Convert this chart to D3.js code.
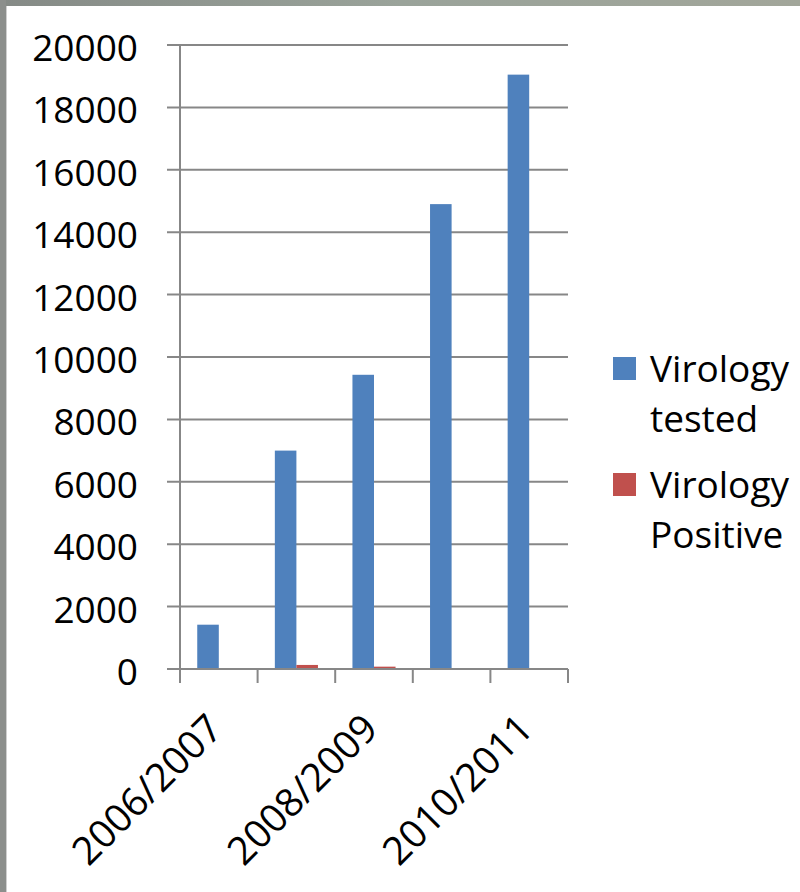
<!DOCTYPE html>
<html>
<head>
<meta charset="utf-8">
<script src="https://cdn.jsdelivr.net/npm/d3@7"></script>
<style>
  html, body { margin: 0; padding: 0; background: #fff; }
  svg { display: block; }
  text { font-family: "Open Sans", "Noto Sans", sans-serif; fill: #000; }
</style>
</head>
<body>
<svg id="chart" width="800" height="892"></svg>
<script>
const categories = ["2006/2007", "2007/2008", "2008/2009", "2009/2010", "2010/2011"];
const shownLabels = ["2006/2007", "2008/2009", "2010/2011"];
const seriesNames = ["Virology tested", "Virology Positive"];
const virologyTested = [1420, 7000, 9430, 14900, 19050];
const virologyPositive = [20, 130, 75, 15, 0];
const yTicks = [0, 2000, 4000, 6000, 8000, 10000, 12000, 14000, 16000, 18000, 20000];
const colors = ["#4F81BD", "#C0504D"];

const svg = d3.select("#chart");
const W = 800, H = 892;

// window frame edges
svg.append("rect").attr("x", 0).attr("y", 0).attr("width", W).attr("height", H).attr("fill", "#fff");
const topGrad = svg.append("defs").append("linearGradient").attr("id", "tg").attr("x1", 0).attr("x2", 1);
topGrad.append("stop").attr("offset", 0).attr("stop-color", "#858a86");
topGrad.append("stop").attr("offset", 0.5).attr("stop-color", "#9aa39a");
topGrad.append("stop").attr("offset", 1).attr("stop-color", "#a2a69a");
svg.append("rect").attr("x", 0).attr("y", 0).attr("width", W).attr("height", 6).attr("fill", "url(#tg)");
svg.append("rect").attr("x", 0).attr("y", 0).attr("width", 6).attr("height", H).attr("fill", "#8c8f8c");
svg.append("rect").attr("x", 6).attr("y", 6).attr("width", 1).attr("height", H).attr("fill", "#cfcfcf");

const plot = { left: 180, right: 568, top: 45, bottom: 669 };

const y = d3.scaleLinear().domain([0, 20000]).range([plot.bottom, plot.top]);
const x0 = d3.scaleBand().domain(categories).range([plot.left, plot.right]).paddingInner(0).paddingOuter(0);
const x1 = d3.scaleBand().domain(seriesNames).range([0, x0.bandwidth()]).paddingInner(0).paddingOuter(0.8);

const gridColor = "#878787";

// gridlines with left ticks
svg.append("g").selectAll("line").data(yTicks).join("line")
  .attr("x1", plot.left - 13).attr("x2", plot.right)
  .attr("y1", d => y(d)).attr("y2", d => y(d))
  .attr("stroke", gridColor).attr("stroke-width", 2);

// y labels
svg.append("g").selectAll("text").data(yTicks).join("text")
  .attr("x", 138).attr("y", d => y(d) + 16)
  .attr("text-anchor", "end")
  .attr("font-size", 37)
  .text(d => d);

// bars
const data = categories.map((c, i) => ({ cat: c, vals: [virologyTested[i], virologyPositive[i]] }));
const groups = svg.append("g").selectAll("g").data(data).join("g")
  .attr("transform", d => `translate(${x0(d.cat)},0)`);
groups.selectAll("rect").data(d => d.vals.map((v, j) => ({ v, s: seriesNames[j], j }))).join("rect")
  .attr("x", d => x1(d.s))
  .attr("width", x1.bandwidth())
  .attr("y", d => y(d.v))
  .attr("height", d => plot.bottom - y(d.v))
  .attr("fill", d => colors[d.j]);

// axes
svg.append("line").attr("x1", plot.left).attr("x2", plot.left).attr("y1", plot.top).attr("y2", plot.bottom + 14)
  .attr("stroke", gridColor).attr("stroke-width", 2);
svg.append("line").attr("x1", plot.left - 13).attr("x2", plot.right).attr("y1", plot.bottom).attr("y2", plot.bottom)
  .attr("stroke", gridColor).attr("stroke-width", 2);
const boundaries = categories.map(c => x0(c)).concat([plot.right]);
svg.append("g").selectAll("line").data(boundaries).join("line")
  .attr("x1", d => d).attr("x2", d => d)
  .attr("y1", plot.bottom).attr("y2", plot.bottom + 14)
  .attr("stroke", gridColor).attr("stroke-width", 2);

// x labels
svg.append("g").selectAll("text").data(categories.filter(c => shownLabels.includes(c))).join("text")
  .attr("transform", d => `translate(${x0(d) + x0.bandwidth() / 2 + 6},${plot.bottom + 62}) rotate(-45)`)
  .attr("text-anchor", "end")
  .attr("font-size", 39)
  .text(d => d);

// legend
const legend = svg.append("g");
const legendItems = [
  { name: seriesNames[0], lines: ["Virology", "tested"], y: 357 },
  { name: seriesNames[1], lines: ["Virology", "Positive"], y: 473 }
];
legendItems.forEach((it, i) => {
  legend.append("rect").attr("x", 613).attr("y", it.y).attr("width", 23).attr("height", 23).attr("fill", colors[i]);
  it.lines.forEach((ln, k) => {
    legend.append("text").attr("x", 650).attr("y", it.y + 25 + k * 50)
      .attr("font-size", 37).text(ln);
  });
});
</script>
</body>
</html>
